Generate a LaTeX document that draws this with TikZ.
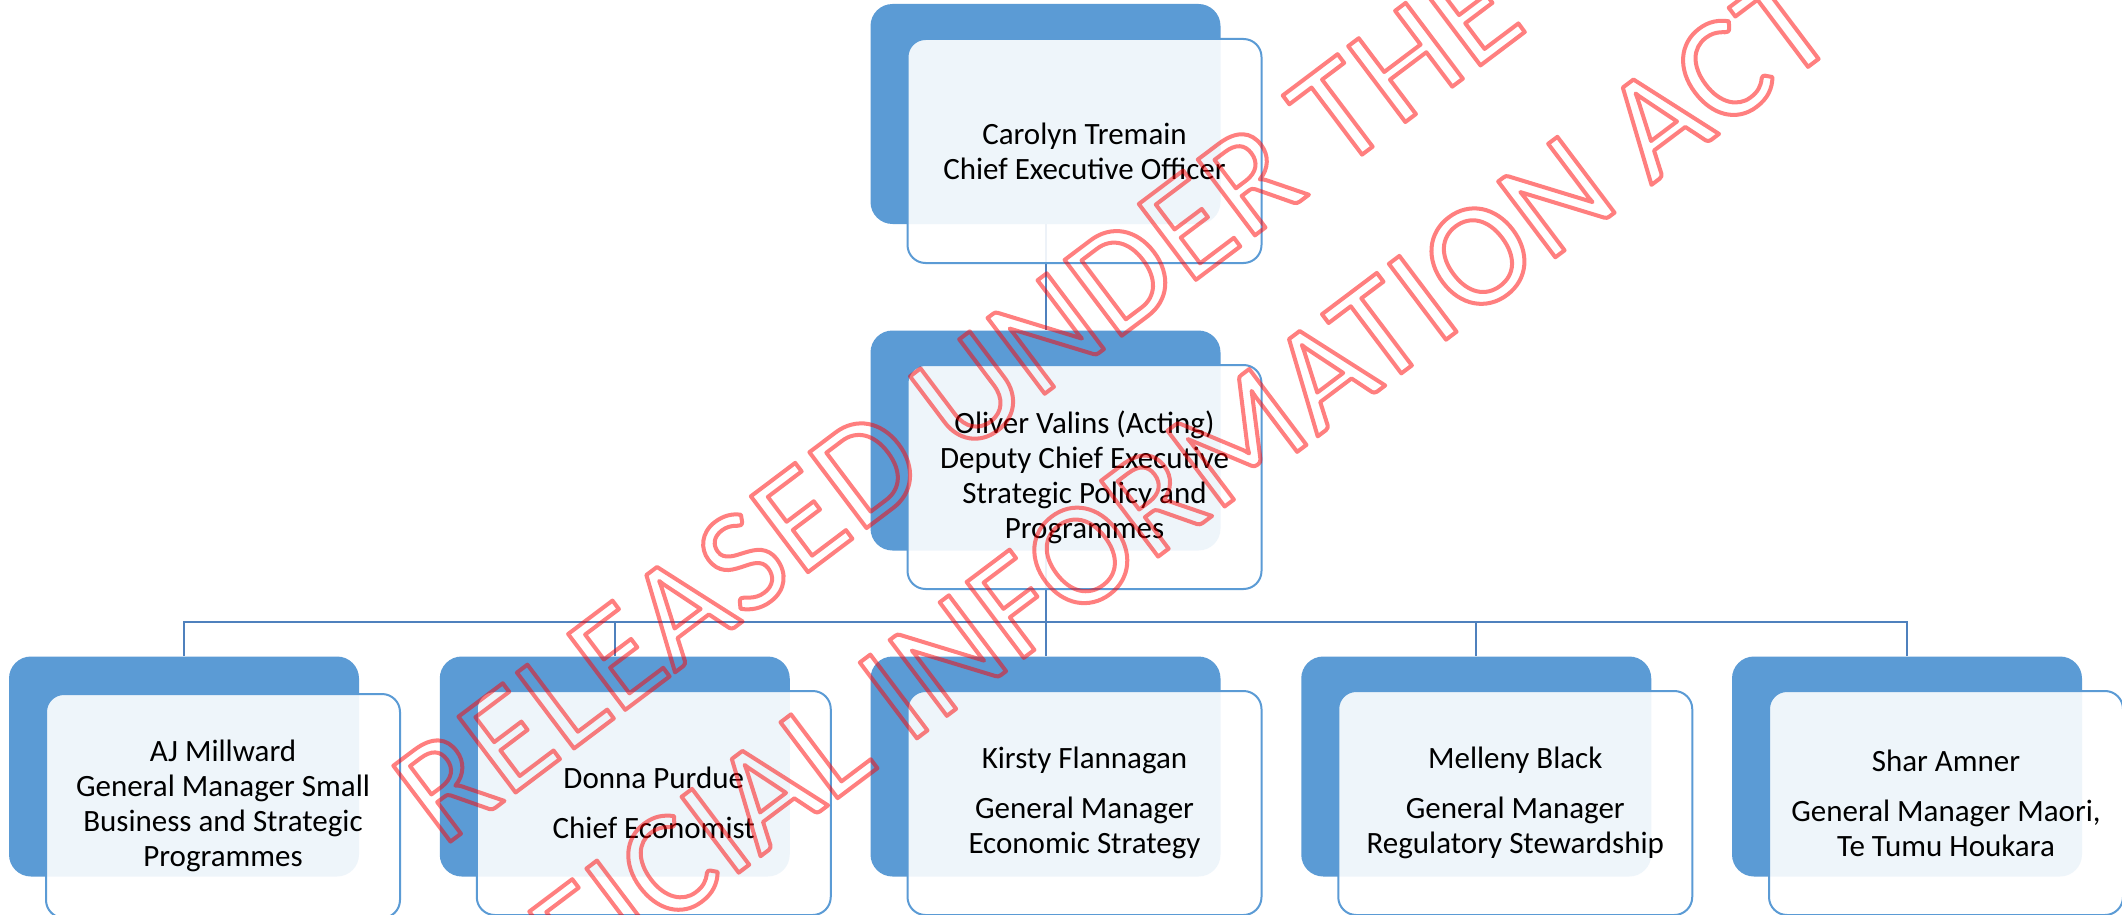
\documentclass[tikz,border=0pt]{standalone}
\usepackage{fontspec}
\setmainfont{Carlito}
\newfontfamily\wmfont[LetterSpace=1]{Carlito}
\usetikzlibrary{calc}
\definecolor{backblue}{HTML}{5B9BD5}
\definecolor{lineblue}{HTML}{4F81BD}
\definecolor{wmred}{HTML}{FF0000}
\newcommand\wmon{\special{pdf:literal direct 1 Tr 2 w 1 j}}
\newcommand\wmoff{\special{pdf:literal direct 0 Tr}}
\tikzset{
  backbox/.style={draw=none, fill=backblue, rounded corners=11pt,
    minimum width=175pt, minimum height=110pt, inner sep=0pt},
  frontbox/.style={draw=backblue, line width=1pt, fill=white, fill opacity=0.9,
    text opacity=1, rounded corners=9pt, minimum width=177pt, minimum height=112pt,
    inner sep=0pt, align=center, text=black,
    font=\fontsize{15.5pt}{17.5pt}\selectfont},
  conn/.style={draw=lineblue, line width=1pt},
  wmtext/.style={font=\wmfont\fontsize{74pt}{86pt}\selectfont, text=wmred, rotate=37,
    anchor=base, inner sep=0pt}
}
\begin{document}
\begin{tikzpicture}[x=0.5pt,y=-0.5pt]
\useasboundingbox[fill=white] (0,0) rectangle (2122,915);
% back boxes
\node[backbox] (ceoB) at (1045.5,114) {};
\node[backbox] (midB) at (1045.5,440.5) {};
\foreach \i in {0,...,4}{
  \node[backbox] (c\i B) at ({184+430.75*\i},766.5) {};
}
% connectors
\coordinate (bus) at (1045.5,622);
\draw[conn] (ceoB.south) -- (midB.north);
\draw[conn] (midB.south) -- (bus);
\foreach \i in {0,...,4}{
  \draw[conn] (c\i B.north) |- (bus);
}
% front boxes
\node[frontbox] (ceo) at (1084.5,151) {Carolyn Tremain\\Chief Executive Officer};
\node[frontbox] (mid) at (1084.5,477) {Oliver Valins (Acting)\\Deputy Chief Executive\\Strategic Policy and\\Programmes};
\node[frontbox] (c0) at ({223+430.75*0},806) {AJ Millward\\General Manager Small\\Business and Strategic\\Programmes};
\node[frontbox] (c1) at ({223+430.75*1},803) {Donna Purdue\\[7.5pt]Chief Economist};
\node[frontbox] (c2) at ({223+430.75*2},803) {Kirsty Flannagan\\[7.5pt]General Manager\\Economic Strategy};
\node[frontbox] (c3) at ({223+430.75*3},803) {Melleny Black\\[7.5pt]General Manager\\Regulatory Stewardship};
\node[frontbox] (c4) at ({223+430.75*4},803) {Shar Amner\\[7.5pt]General Manager Maori,\\Te Tumu Houkara};
% watermark
\begin{scope}[opacity=0.5]
\node[wmtext] (wm1) at (986,438) {\wmon RELEASED UNDER THE\wmoff};
\node[wmtext] (wm2) at (1143,568) {\wmon OFFICIAL INFORMATION ACT\wmoff};
\end{scope}
\end{tikzpicture}
\end{document}
